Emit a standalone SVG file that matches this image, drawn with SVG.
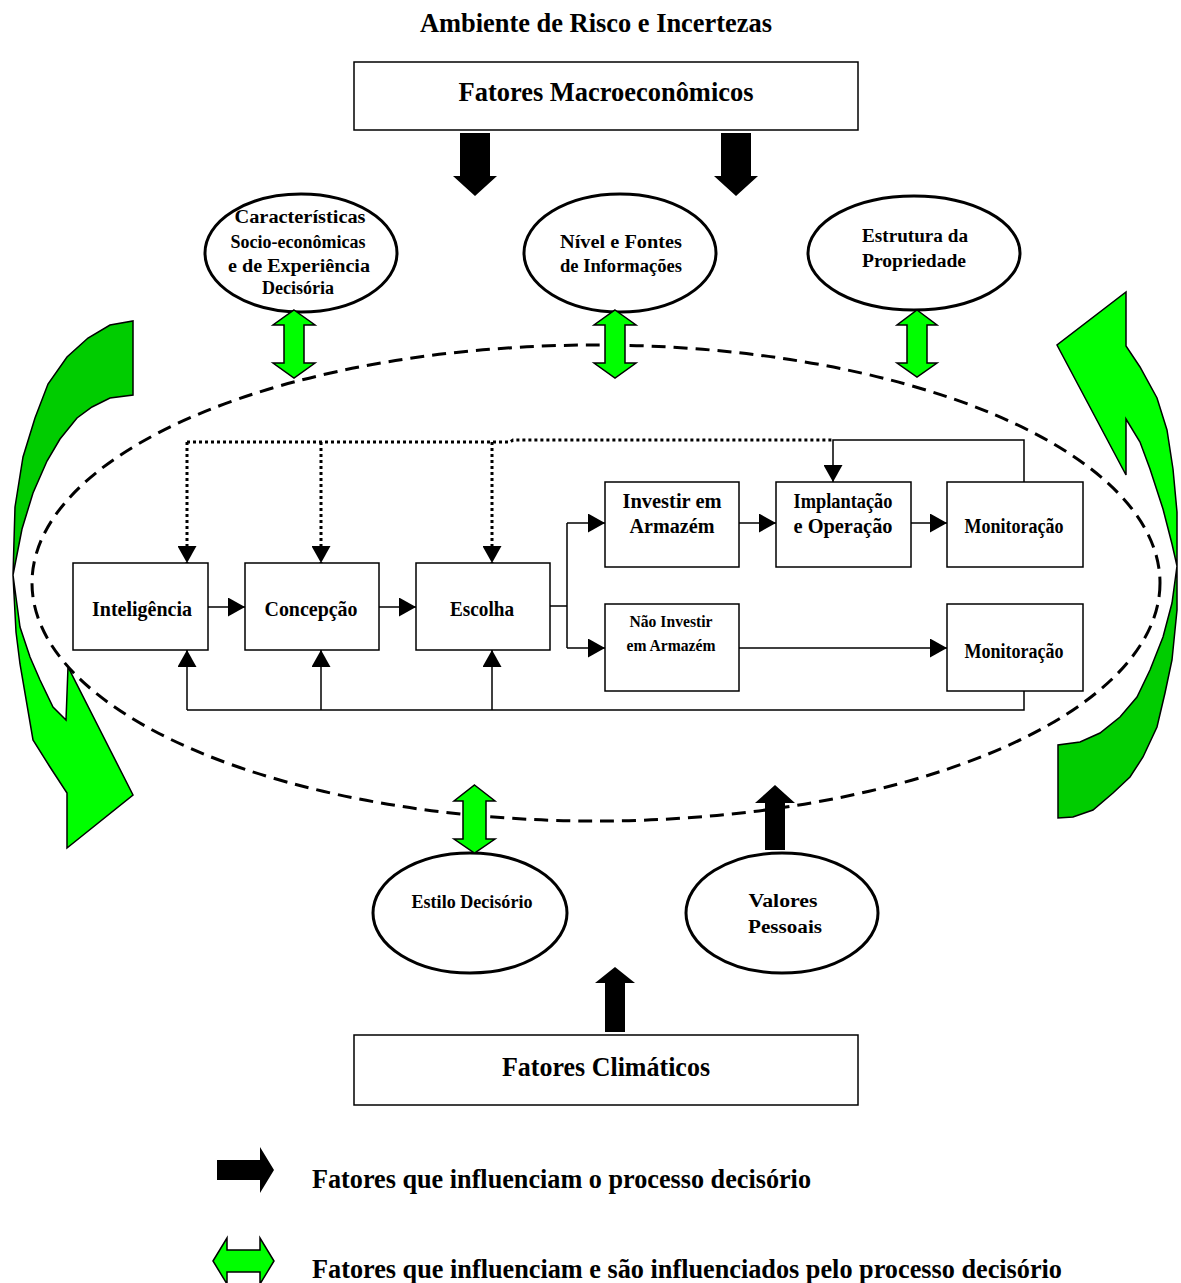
<svg xmlns="http://www.w3.org/2000/svg" width="1181" height="1283" viewBox="0 0 1181 1283">
<defs>
<style>
.t{font-family:"Liberation Serif","Times New Roman",serif;font-weight:bold;text-anchor:middle;fill:#000}
.s{text-anchor:start}
.box{fill:#fff;stroke:#000;stroke-width:1.5}
.ell{fill:#fff;stroke:#000;stroke-width:3}
.ln{fill:none;stroke:#000;stroke-width:1.5}
.dot{fill:none;stroke:#000;stroke-width:3;stroke-dasharray:3 3}
.blk{fill:#000;stroke:none}
.g{fill:#00ff00;stroke:#000;stroke-width:1.5}
.dg{fill:#00cc00;stroke:#000;stroke-width:1.5}
</style>
<marker id="ah" viewBox="0 0 17 19" refX="17" refY="9.5" markerWidth="17" markerHeight="19" markerUnits="userSpaceOnUse" orient="auto">
<path d="M0,0 L17,9.5 L0,19 Z" fill="#000"/>
</marker>
</defs>
<rect width="1181" height="1283" fill="#fff"/>

<text class="t" x="596" y="32" font-size="28" textLength="352" lengthAdjust="spacingAndGlyphs">Ambiente de Risco e Incertezas</text>

<g id="curved-arrows">
<path class="dg" d="M13,575 L15,507 L23,457 L35,418 L48,384 L67,357 L88,338 L110,325 L133,321 L133,395 L110,398 L92,407 L77,418 L60,439 L47,461 L33,493 L22,529 Z"/>
<path class="g" d="M13,575 L16,632 L20,664 L33,740 L50,767 L67,793 L67,848 L133,795 L68,667 L66,720 L53,707 L40,680 L30,657 L20,627 Z"/>
<path class="g" d="M1126,292 L1126,346 L1140,367 L1157,398 L1167,430 L1173,469 L1177,512 L1177,566 L1172,544 L1163,509 L1150,469 L1140,442 L1126,419 L1126,475 L1057,345 Z"/>
<path class="dg" d="M1177,566 L1177,610 L1172,660 L1165,693 L1157,727 L1143,757 L1130,777 L1113,793 L1093,810 L1073,817 L1058,818 L1058,745 L1080,742 L1100,733 L1120,717 L1137,697 L1150,670 L1163,637 L1172,603 Z"/>
</g>

<g id="environment">
<ellipse cx="596" cy="583" rx="564" ry="238" fill="none" stroke="#000" stroke-width="3" stroke-dasharray="14 8"/>
</g>

<g id="fatores-macro">
<rect class="box" x="354" y="62" width="504" height="68"/>
<text class="t" x="606" y="101" font-size="28" textLength="295" lengthAdjust="spacingAndGlyphs">Fatores Macroeconômicos</text>
</g>

<g id="caracteristicas">
<ellipse class="ell" cx="301" cy="253" rx="96" ry="59"/>
<text class="t" x="300" y="223" font-size="18" textLength="131" lengthAdjust="spacingAndGlyphs">Características</text>
<text class="t" x="298" y="248" font-size="18" textLength="135" lengthAdjust="spacingAndGlyphs">Socio-econômicas</text>
<text class="t" x="299" y="272" font-size="18" textLength="142" lengthAdjust="spacingAndGlyphs">e de Experiência</text>
<text class="t" x="298" y="294" font-size="18">Decisória</text>
</g>

<g id="nivel-fontes">
<ellipse class="ell" cx="620" cy="253" rx="96" ry="59"/>
<text class="t" x="621" y="248" font-size="18" textLength="122" lengthAdjust="spacingAndGlyphs">Nível  e Fontes</text>
<text class="t" x="621" y="272" font-size="18" textLength="122" lengthAdjust="spacingAndGlyphs">de Informações</text>
</g>

<g id="estrutura">
<ellipse class="ell" cx="914" cy="253" rx="106" ry="57"/>
<text class="t" x="915" y="242" font-size="18" textLength="106" lengthAdjust="spacingAndGlyphs">Estrutura da</text>
<text class="t" x="914" y="267" font-size="18" textLength="104" lengthAdjust="spacingAndGlyphs">Propriedade</text>
</g>

<g id="inteligencia">
<rect class="box" x="73" y="563" width="135" height="87"/>
<text class="t" x="142" y="616" font-size="21" textLength="100" lengthAdjust="spacingAndGlyphs">Inteligência</text>
</g>
<g id="concepcao">
<rect class="box" x="245" y="563" width="134" height="87"/>
<text class="t" x="311" y="616" font-size="21" textLength="93" lengthAdjust="spacingAndGlyphs">Concepção</text>
</g>
<g id="escolha">
<rect class="box" x="416" y="563" width="134" height="87"/>
<text class="t" x="482" y="616" font-size="21" textLength="64" lengthAdjust="spacingAndGlyphs">Escolha</text>
</g>
<g id="investir">
<rect class="box" x="605" y="482" width="134" height="85"/>
<text class="t" x="672" y="508" font-size="20" textLength="99" lengthAdjust="spacingAndGlyphs">Investir  em</text>
<text class="t" x="672" y="533" font-size="20" textLength="85" lengthAdjust="spacingAndGlyphs">Armazém</text>
</g>
<g id="implantacao">
<rect class="box" x="776" y="482" width="135" height="85"/>
<text class="t" x="843" y="508" font-size="20" textLength="99" lengthAdjust="spacingAndGlyphs">Implantação</text>
<text class="t" x="843" y="533" font-size="20" textLength="99" lengthAdjust="spacingAndGlyphs">e Operação</text>
</g>
<g id="monitoracao-1">
<rect class="box" x="947" y="482" width="136" height="85"/>
<text class="t" x="1014" y="533" font-size="20" textLength="99" lengthAdjust="spacingAndGlyphs">Monitoração</text>
</g>
<g id="nao-investir">
<rect class="box" x="605" y="604" width="134" height="87"/>
<text class="t" x="671" y="627" font-size="16" textLength="83" lengthAdjust="spacingAndGlyphs">Não Investir</text>
<text class="t" x="671" y="651" font-size="16" textLength="89" lengthAdjust="spacingAndGlyphs">em Armazém</text>
</g>
<g id="monitoracao-2">
<rect class="box" x="947" y="604" width="136" height="87"/>
<text class="t" x="1014" y="658" font-size="20" textLength="99" lengthAdjust="spacingAndGlyphs">Monitoração</text>
</g>

<g id="estilo">
<ellipse class="ell" cx="470" cy="913" rx="97" ry="60"/>
<text class="t" x="472" y="908" font-size="18" textLength="121" lengthAdjust="spacingAndGlyphs">Estilo Decisório</text>
</g>
<g id="valores">
<ellipse class="ell" cx="782" cy="913" rx="96" ry="60"/>
<text class="t" x="783" y="907" font-size="18" textLength="69" lengthAdjust="spacingAndGlyphs">Valores</text>
<text class="t" x="785" y="933" font-size="18" textLength="74" lengthAdjust="spacingAndGlyphs">Pessoais</text>
</g>

<g id="fatores-climaticos">
<rect class="box" x="354" y="1035" width="504" height="70"/>
<text class="t" x="606" y="1076" font-size="28" textLength="208" lengthAdjust="spacingAndGlyphs">Fatores Climáticos</text>
</g>

<g id="connectors">
<path class="ln" d="M208,607 H245" marker-end="url(#ah)"/>
<path class="ln" d="M379,607 H416" marker-end="url(#ah)"/>
<path class="ln" d="M550,606 H567 M567,523 V648"/>
<path class="ln" d="M567,523 H605" marker-end="url(#ah)"/>
<path class="ln" d="M567,648 H605" marker-end="url(#ah)"/>
<path class="ln" d="M739,523 H776" marker-end="url(#ah)"/>
<path class="ln" d="M911,523 H947" marker-end="url(#ah)"/>
<path class="ln" d="M739,648 H947" marker-end="url(#ah)"/>
<path class="ln" d="M1024,482 V440 H833 V482" marker-end="url(#ah)"/>
<path class="ln" d="M1024,691 V710 H187"/>
<path class="ln" d="M187,710 V650" marker-end="url(#ah)"/>
<path class="ln" d="M321,710 V650" marker-end="url(#ah)"/>
<path class="ln" d="M492,710 V650" marker-end="url(#ah)"/>
<path class="dot" d="M187,442 H510 L513,440 H833"/>
<path class="dot" d="M187,442 V563" marker-end="url(#ah)"/>
<path class="dot" d="M321,442 V563" marker-end="url(#ah)"/>
<path class="dot" d="M492,442 V563" marker-end="url(#ah)"/>
<path class="blk" d="M460,133 H490 V176 H497 L475,196 L453,176 H460 Z"/>
<path class="blk" d="M721,133 H751 V176 H758 L736,196 L714,176 H721 Z"/>
<path class="g" d="M294,310 L315,325 H304 V363 H315 L294,378 L273,363 H284 V325 H273 Z"/>
<path class="g" d="M615,310 L636,325 H625 V363 H636 L615,378 L594,363 H605 V325 H594 Z"/>
<path class="g" d="M917,310 L937,325 H927 V363 H937 L917,377 L897,363 H907 V325 H897 Z"/>
<path class="g" d="M474.5,785 L495,801 H486 V839 H495 L474.5,853 L454,839 H463 V801 H454 Z"/>
<path class="blk" d="M775,785 L795,803 H785 V850 H765 V803 H755 Z"/>
<path class="blk" d="M615,967 L635,983 H625 V1032 H605 V983 H595 Z"/>
</g>

<g id="legend">
<path class="blk" d="M217,1160 H260 V1147 L274,1170 L260,1193 V1180 H217 Z"/>
<text class="t s" x="312" y="1188" font-size="28" textLength="499" lengthAdjust="spacingAndGlyphs">Fatores que influenciam o processo decisório</text>
<path class="g" d="M213,1261 L227,1238 V1250 H260 V1238 L274,1261 L260,1284 V1272 H227 V1284 Z"/>
<text class="t s" x="312" y="1278" font-size="28" textLength="750" lengthAdjust="spacingAndGlyphs">Fatores que influenciam e são influenciados pelo processo decisório</text>
</g>
</svg>
